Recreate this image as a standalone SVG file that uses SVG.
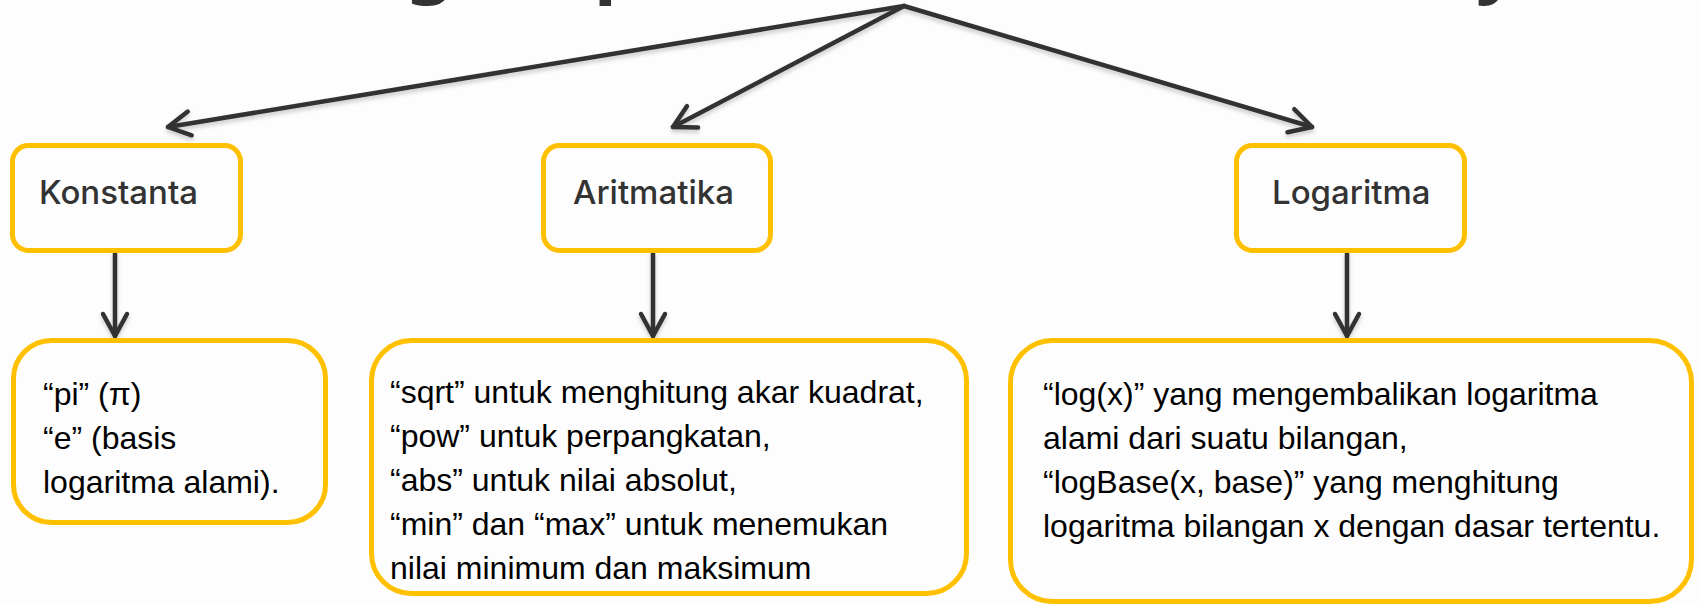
<svg xmlns="http://www.w3.org/2000/svg" width="1698" height="606" viewBox="0 0 1698 606">
<style>
.box{fill:#fdfdfd;stroke:#FFC000;stroke-width:5}
.lbl{font-family:Inter,"Noto Sans",sans-serif;font-weight:500;font-size:33px;fill:#333333}
.body{font-family:"Liberation Sans",Arial,sans-serif;font-size:32px;fill:#000000}
.conn{fill:none;stroke:#333333;stroke-width:4.5;stroke-linecap:round}
.title{font-family:"Noto Sans",sans-serif;font-weight:700;font-size:76px;fill:#333333}
</style>
<defs>
<marker id="arr" markerUnits="userSpaceOnUse" viewBox="-26 -16 30 32" markerWidth="30" markerHeight="32" refX="0" refY="0" orient="auto">
<path d="M-22,-12 L0,0 L-22,12" fill="none" stroke="#333333" stroke-width="4.5" stroke-linecap="round" stroke-linejoin="round"/>
</marker>
<filter id="sh" x="-10%" y="-10%" width="120%" height="140%">
<feDropShadow dx="0" dy="3" stdDeviation="2" flood-color="#000" flood-opacity="0.2"/>
</filter>
</defs>
<rect width="1698" height="606" fill="#fdfdfd"/>
<g id="title">
<text class="title" x="406" y="-12">g</text>
<text class="title" x="594" y="-12">p</text>
<text class="title" x="1476" y="-12">y</text>
</g>
<g id="connectors" filter="url(#sh)">
<line class="conn" x1="904" y1="6" x2="168" y2="127" marker-end="url(#arr)"/>
<line class="conn" x1="904" y1="6" x2="673" y2="127" marker-end="url(#arr)"/>
<line class="conn" x1="904" y1="6" x2="1312" y2="127" marker-end="url(#arr)"/>
<line class="conn" x1="115" y1="253" x2="115" y2="336" marker-end="url(#arr)"/>
<line class="conn" x1="653" y1="253" x2="653" y2="336" marker-end="url(#arr)"/>
<line class="conn" x1="1347" y1="253" x2="1347" y2="336" marker-end="url(#arr)"/>
</g>
<g id="konstanta">
<rect class="box" x="12.5" y="145.5" width="228" height="105" rx="16"/>
<text class="lbl" x="39" y="204">Konstanta</text>
</g>
<g id="aritmatika">
<rect class="box" x="543.5" y="145.5" width="227" height="105" rx="16"/>
<text class="lbl" x="573" y="204">Aritmatika</text>
</g>
<g id="logaritma">
<rect class="box" x="1236.5" y="145.5" width="228" height="105" rx="16"/>
<text class="lbl" x="1272" y="204">Logaritma</text>
</g>
<g id="konstanta-detail">
<rect class="box" x="13.5" y="340.5" width="312" height="182" rx="38"/>
<text class="body" x="43" y="405">“pi” (π)</text>
<text class="body" x="43" y="449">“e” (basis</text>
<text class="body" x="43" y="493">logaritma alami).</text>
</g>
<g id="aritmatika-detail">
<rect class="box" x="371.5" y="340.5" width="595" height="253" rx="40"/>
<text class="body" x="390" y="403">“sqrt” untuk menghitung akar kuadrat,</text>
<text class="body" x="390" y="447">“pow” untuk perpangkatan,</text>
<text class="body" x="390" y="491">“abs” untuk nilai absolut,</text>
<text class="body" x="390" y="535">“min” dan “max” untuk menemukan</text>
<text class="body" x="390" y="579">nilai minimum dan maksimum</text>
</g>
<g id="logaritma-detail">
<rect class="box" x="1010.5" y="340.5" width="681" height="261" rx="42"/>
<text class="body" x="1043" y="405">“log(x)” yang mengembalikan logaritma</text>
<text class="body" x="1043" y="449">alami dari suatu bilangan,</text>
<text class="body" x="1043" y="493">“logBase(x, base)” yang menghitung</text>
<text class="body" x="1043" y="537">logaritma bilangan x dengan dasar tertentu.</text>
</g>
</svg>
